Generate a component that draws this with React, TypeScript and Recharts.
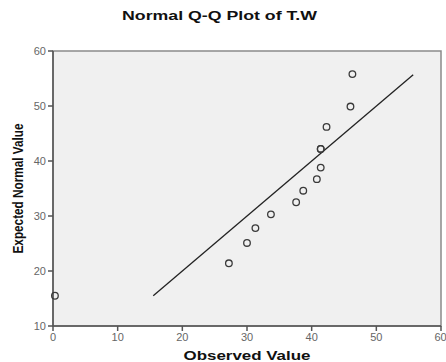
import {
  CartesianGrid,
  Label,
  ReferenceArea,
  ReferenceLine,
  Scatter,
  ScatterChart,
  XAxis,
  YAxis,
} from "recharts";

const observed = [0.3, 27.2, 30.0, 31.3, 33.7, 37.6, 38.7, 40.8, 41.4, 41.4, 41.4, 42.3, 46.0, 46.3];
const expected = [15.5, 21.4, 25.1, 27.8, 30.3, 32.5, 34.6, 36.7, 38.8, 42.2, 42.2, 46.2, 49.9, 55.8];

const lineStart = 15.5;
const lineEnd = 55.7;

const xTicks = [0, 10, 20, 30, 40, 50, 60];
const yTicks = [10, 20, 30, 40, 50, 60];

const points = observed.map((x, i) => ({ x, y: expected[i] }));

const font = "'Liberation Sans', Arial, sans-serif";
const axisColor = "#555";

const OpenCircle = (props: any) => {
  const { cx, cy } = props;
  return <circle cx={cx} cy={cy} r={3.3} fill="none" stroke="#3a3a3a" strokeWidth={1.3} />;
};

const XTitle = ({ viewBox }: any) => {
  const cx = viewBox.x + viewBox.width / 2;
  return (
    <text
      x={cx}
      y={viewBox.y + 34}
      textAnchor="middle"
      textLength={127}
      lengthAdjust="spacingAndGlyphs"
      style={{ fontFamily: font, fontWeight: "bold", fontSize: 13, fill: "#111" }}
    >
      Observed Value
    </text>
  );
};

const YTitle = ({ viewBox }: any) => {
  const cy = viewBox.y + viewBox.height / 2;
  return (
    <text
      x={23}
      y={cy}
      transform={`rotate(-90 23 ${cy})`}
      textAnchor="middle"
      textLength={130}
      lengthAdjust="spacingAndGlyphs"
      style={{ fontFamily: font, fontWeight: "bold", fontSize: 14, fill: "#111" }}
    >
      Expected Normal Value
    </text>
  );
};

export default function App() {
  return (
    <div style={{ position: "absolute", left: 0, top: 0, width: 446, height: 362, background: "#fff" }}>
      <svg width={446} height={30} style={{ position: "absolute", left: 0, top: 0 }}>
        <text
          x={122}
          y={20}
          textLength={195}
          lengthAdjust="spacingAndGlyphs"
          style={{ fontFamily: font, fontWeight: "bold", fontSize: 13, fill: "#111" }}
        >
          Normal Q-Q Plot of T.W
        </text>
      </svg>
      <ScatterChart width={446} height={362} margin={{ top: 51, right: 5, bottom: 0, left: 0 }}>
        <CartesianGrid horizontal={false} vertical={false} fill="#f0f0f0" />
        <ReferenceArea x1={0} x2={60} y1={10} y2={60} fill="#f0f0f0" fillOpacity={1} stroke="#8a8a8a" strokeWidth={1.5} />
        <XAxis
          type="number"
          dataKey="x"
          domain={[0, 60]}
          ticks={xTicks}
          height={36}
          stroke={axisColor}
          strokeWidth={1.5}
          tickSize={5}
          tick={{ fill: "#666", fontSize: 11, fontFamily: font }}
        >
          <Label content={XTitle} />
        </XAxis>
        <YAxis
          type="number"
          dataKey="y"
          domain={[10, 60]}
          ticks={yTicks}
          width={53}
          stroke={axisColor}
          strokeWidth={1.5}
          tickSize={5}
          tick={{ fill: "#666", fontSize: 11, fontFamily: font }}
        >
          <Label content={YTitle} />
        </YAxis>
        <ReferenceLine
          segment={[
            { x: lineStart, y: lineStart },
            { x: lineEnd, y: lineEnd },
          ]}
          stroke="#222"
          strokeWidth={1.3}
        />
        <Scatter data={points} shape={OpenCircle} isAnimationActive={false} />
      </ScatterChart>
    </div>
  );
}
